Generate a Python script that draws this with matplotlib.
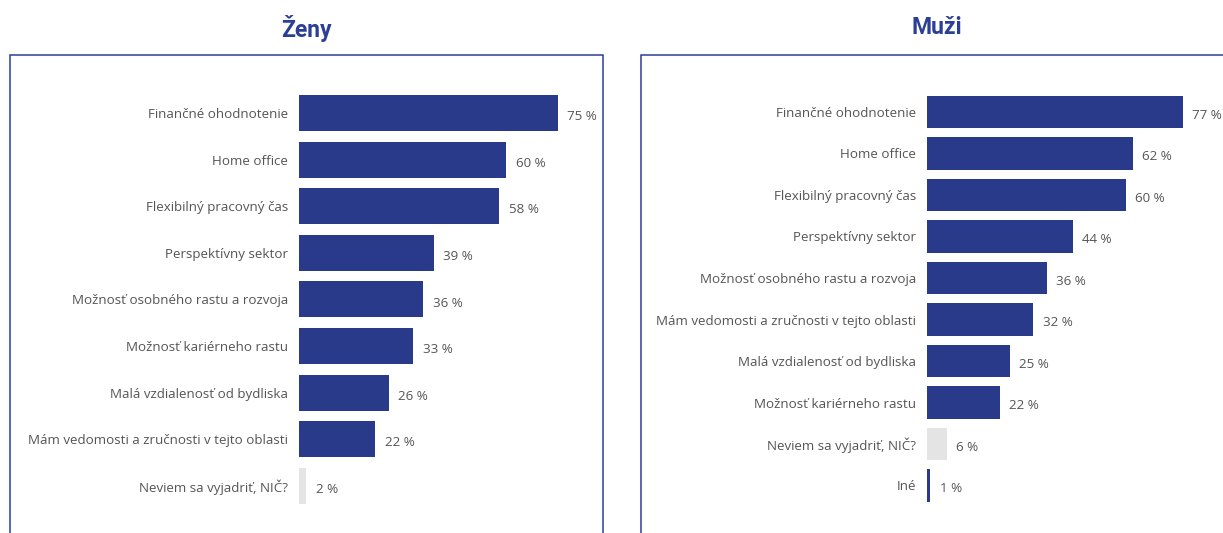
import matplotlib.pyplot as plt
from matplotlib.patches import Rectangle

# data
zeny_labels = ["Finančné ohodnotenie", "Home office", "Flexibilný pracovný čas",
               "Perspektívny sektor", "Možnosť osobného rastu a rozvoja",
               "Možnosť kariérneho rastu", "Malá vzdialenosť od bydliska",
               "Mám vedomosti a zručnosti v tejto oblasti", "Neviem sa vyjadriť, NIČ?"]
zeny_values = [75, 60, 58, 39, 36, 33, 26, 22, 2]

muzi_labels = ["Finančné ohodnotenie", "Home office", "Flexibilný pracovný čas",
               "Perspektívny sektor", "Možnosť osobného rastu a rozvoja",
               "Mám vedomosti a zručnosti v tejto oblasti", "Malá vzdialenosť od bydliska",
               "Možnosť kariérneho rastu", "Neviem sa vyjadriť, NIČ?", "Iné"]
muzi_values = [77, 62, 60, 44, 36, 32, 25, 22, 6, 1]

NAVY = "#283a89"
GRAY = "#e4e4e4"
BLUE = "#2b3f97"
TXT = "#555555"

W, H = 1223, 533
plt.rcParams['font.family'] = ['Open Sans', 'DejaVu Sans']

fig = plt.figure(figsize=(W / 100, H / 100), dpi=100)


def px_axes(x0, x1, y0, y1):
    # pixel box (from top-left) -> figure axes
    return fig.add_axes([x0 / W, 1 - y1 / H, (x1 - x0) / W, (y1 - y0) / H])


def panel(labels, values, bar_x, px_per, row0, row_h, gray_idx, bar_h):
    ax = px_axes(bar_x, W, 55, H)
    n = len(labels)
    colors = [GRAY if i == gray_idx else NAVY for i in range(n)]
    ax.barh(range(n), values, height=bar_h, color=colors)
    ax.set_xlim(0, (W - bar_x) / px_per)
    ax.set_ylim((H - row0) / row_h, (55 - row0) / row_h)
    ax.set_yticks(range(n))
    ax.set_yticklabels(labels, fontsize=9.6, color=TXT)
    ax.tick_params(axis='y', length=0, pad=8)
    ax.set_xticks([])
    for s in ax.spines.values():
        s.set_visible(False)
    ax.patch.set_alpha(0)
    for i, v in enumerate(values):
        ax.text(v + 2.8, i + 0.08, f"{v} %", va='center', ha='left',
                fontsize=9.6, color=TXT)
    return ax


panel(zeny_labels, zeny_values, 299, 3.45, 113, 46.6, 8, 0.77)
panel(muzi_labels, muzi_values, 927, 3.32, 112, 41.5, 8, 0.79)

# panel borders
for x0, x1 in [(10, 603), (641, 1240)]:
    fig.patches.append(Rectangle((x0 / W, -0.05), (x1 - x0) / W, 1 - 55 / H + 0.05,
                                 transform=fig.transFigure, fill=False,
                                 edgecolor=BLUE, linewidth=1.1))

fig.text(306 / W, 1 - 28 / H, "Ženy", ha='center', va='center',
         fontsize=16.5, fontweight='bold', color=BLUE, family='Roboto')
fig.text(937 / W, 1 - 28 / H, "Muži", ha='center', va='center',
         fontsize=16.5, fontweight='bold', color=BLUE, family='Roboto')

fig.savefig("out.png", dpi=100)
